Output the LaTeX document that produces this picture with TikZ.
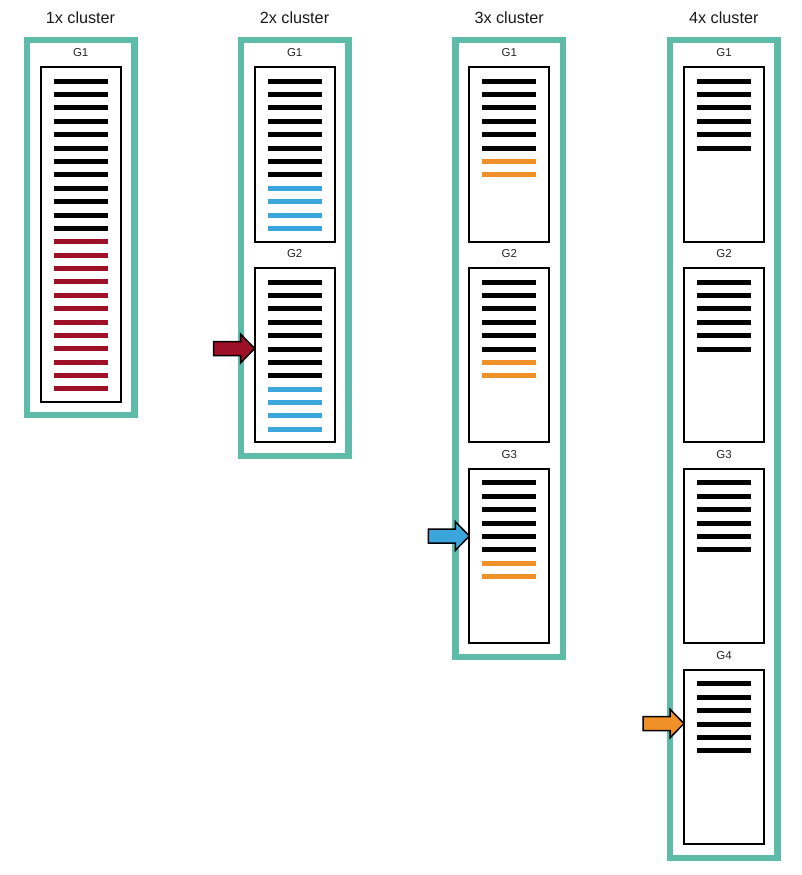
\documentclass[tikz,border=0pt]{standalone}
\usepackage{fontspec}
\setmainfont{Liberation Sans}
\usetikzlibrary{calc}
\definecolor{tealc}{RGB}{94,187,168}
\definecolor{redc}{RGB}{158,16,40}
\definecolor{bluec}{RGB}{58,166,220}
\definecolor{orangec}{RGB}{240,144,40}
\tikzset{
  frame/.style={draw=tealc, line width=6.5pt, inner sep=0pt, outer sep=0pt},
  gbox/.style={draw=black, line width=2pt, fill=white, inner sep=0pt, outer sep=0pt},
  bar/.style={line width=5pt},
  glabel/.style={anchor=base, font=\fontsize{11.5}{12}\selectfont, text=black!85, inner sep=0pt},
  title/.style={anchor=base, font=\fontsize{16.2}{18}\selectfont, text=black!90, inner sep=0pt},
  blockarrow/.style={draw=black, line width=1.5pt, line join=miter},
}
\begin{document}
\begin{tikzpicture}[x=1pt,y=-1pt]
\useasboundingbox (0,0) rectangle (802,875);
\foreach \c/\L/\n/\h/\nb/\nc/\col/\t in {
  1/23.5/1/334/12/12/redc/1x cluster,
  2/237.5/2/174/8/4/bluec/2x cluster,
  3/452.2/3/174/6/2/orangec/3x cluster,
  4/666.8/4/174/6/0/black/4x cluster}{
  \pgfmathsetmacro\fbh{67.5+200.9*(\n-1)+\h+13.55-40.25}
  \node[frame, anchor=north west, minimum width=107.5pt, minimum height=\fbh pt] (f\c) at (\L+3.25,40.25) {};
  \node[title] (t\c) at (\L+57,24) {\t};
  \pgfmathtruncatemacro\tot{\nb+\nc-1}
  \foreach \k in {1,...,\n}{
    \pgfmathsetmacro\ytop{67.5+200.9*(\k-1)}
    \node[gbox, anchor=north west, minimum width=80pt, minimum height=\h pt] (b\c\k) at (\L+17.2,\ytop) {};
    \node[glabel] (g\c\k) at (\L+57.2,\ytop-10.8) {G\k};
    \foreach \j in {0,...,\tot}{
      \pgfmathsetmacro\yy{round(\ytop+13.2+13.38*\j)+0.5}
      \ifnum\j<\nb \def\bc{black}\else \def\bc{\col}\fi
      \draw[bar, draw=\bc] (\L+30.2,\yy) -- (\L+84.2,\yy);
    }
  }
}
\coordinate (ra) at ($(b22.north west)+(0,13.2+13.38*5)$);
\coordinate (ba) at ($(b33.north west)+(0,13.2+13.38*4)$);
\coordinate (oa) at ($(b44.north west)+(0,13.2+13.38*3)$);
\draw[blockarrow, fill=redc] (ra) -- ++(-14,-14.3) -- ++(0,7.3) -- ++(-27,0) -- ++(0,14) -- ++(27,0) -- ++(0,7.3) -- cycle;
\draw[blockarrow, fill=bluec] (ba) -- ++(-14,-14.3) -- ++(0,7.3) -- ++(-27,0) -- ++(0,14) -- ++(27,0) -- ++(0,7.3) -- cycle;
\draw[blockarrow, fill=orangec] (oa) -- ++(-14,-14.3) -- ++(0,7.3) -- ++(-27,0) -- ++(0,14) -- ++(27,0) -- ++(0,7.3) -- cycle;
\end{tikzpicture}
\end{document}
